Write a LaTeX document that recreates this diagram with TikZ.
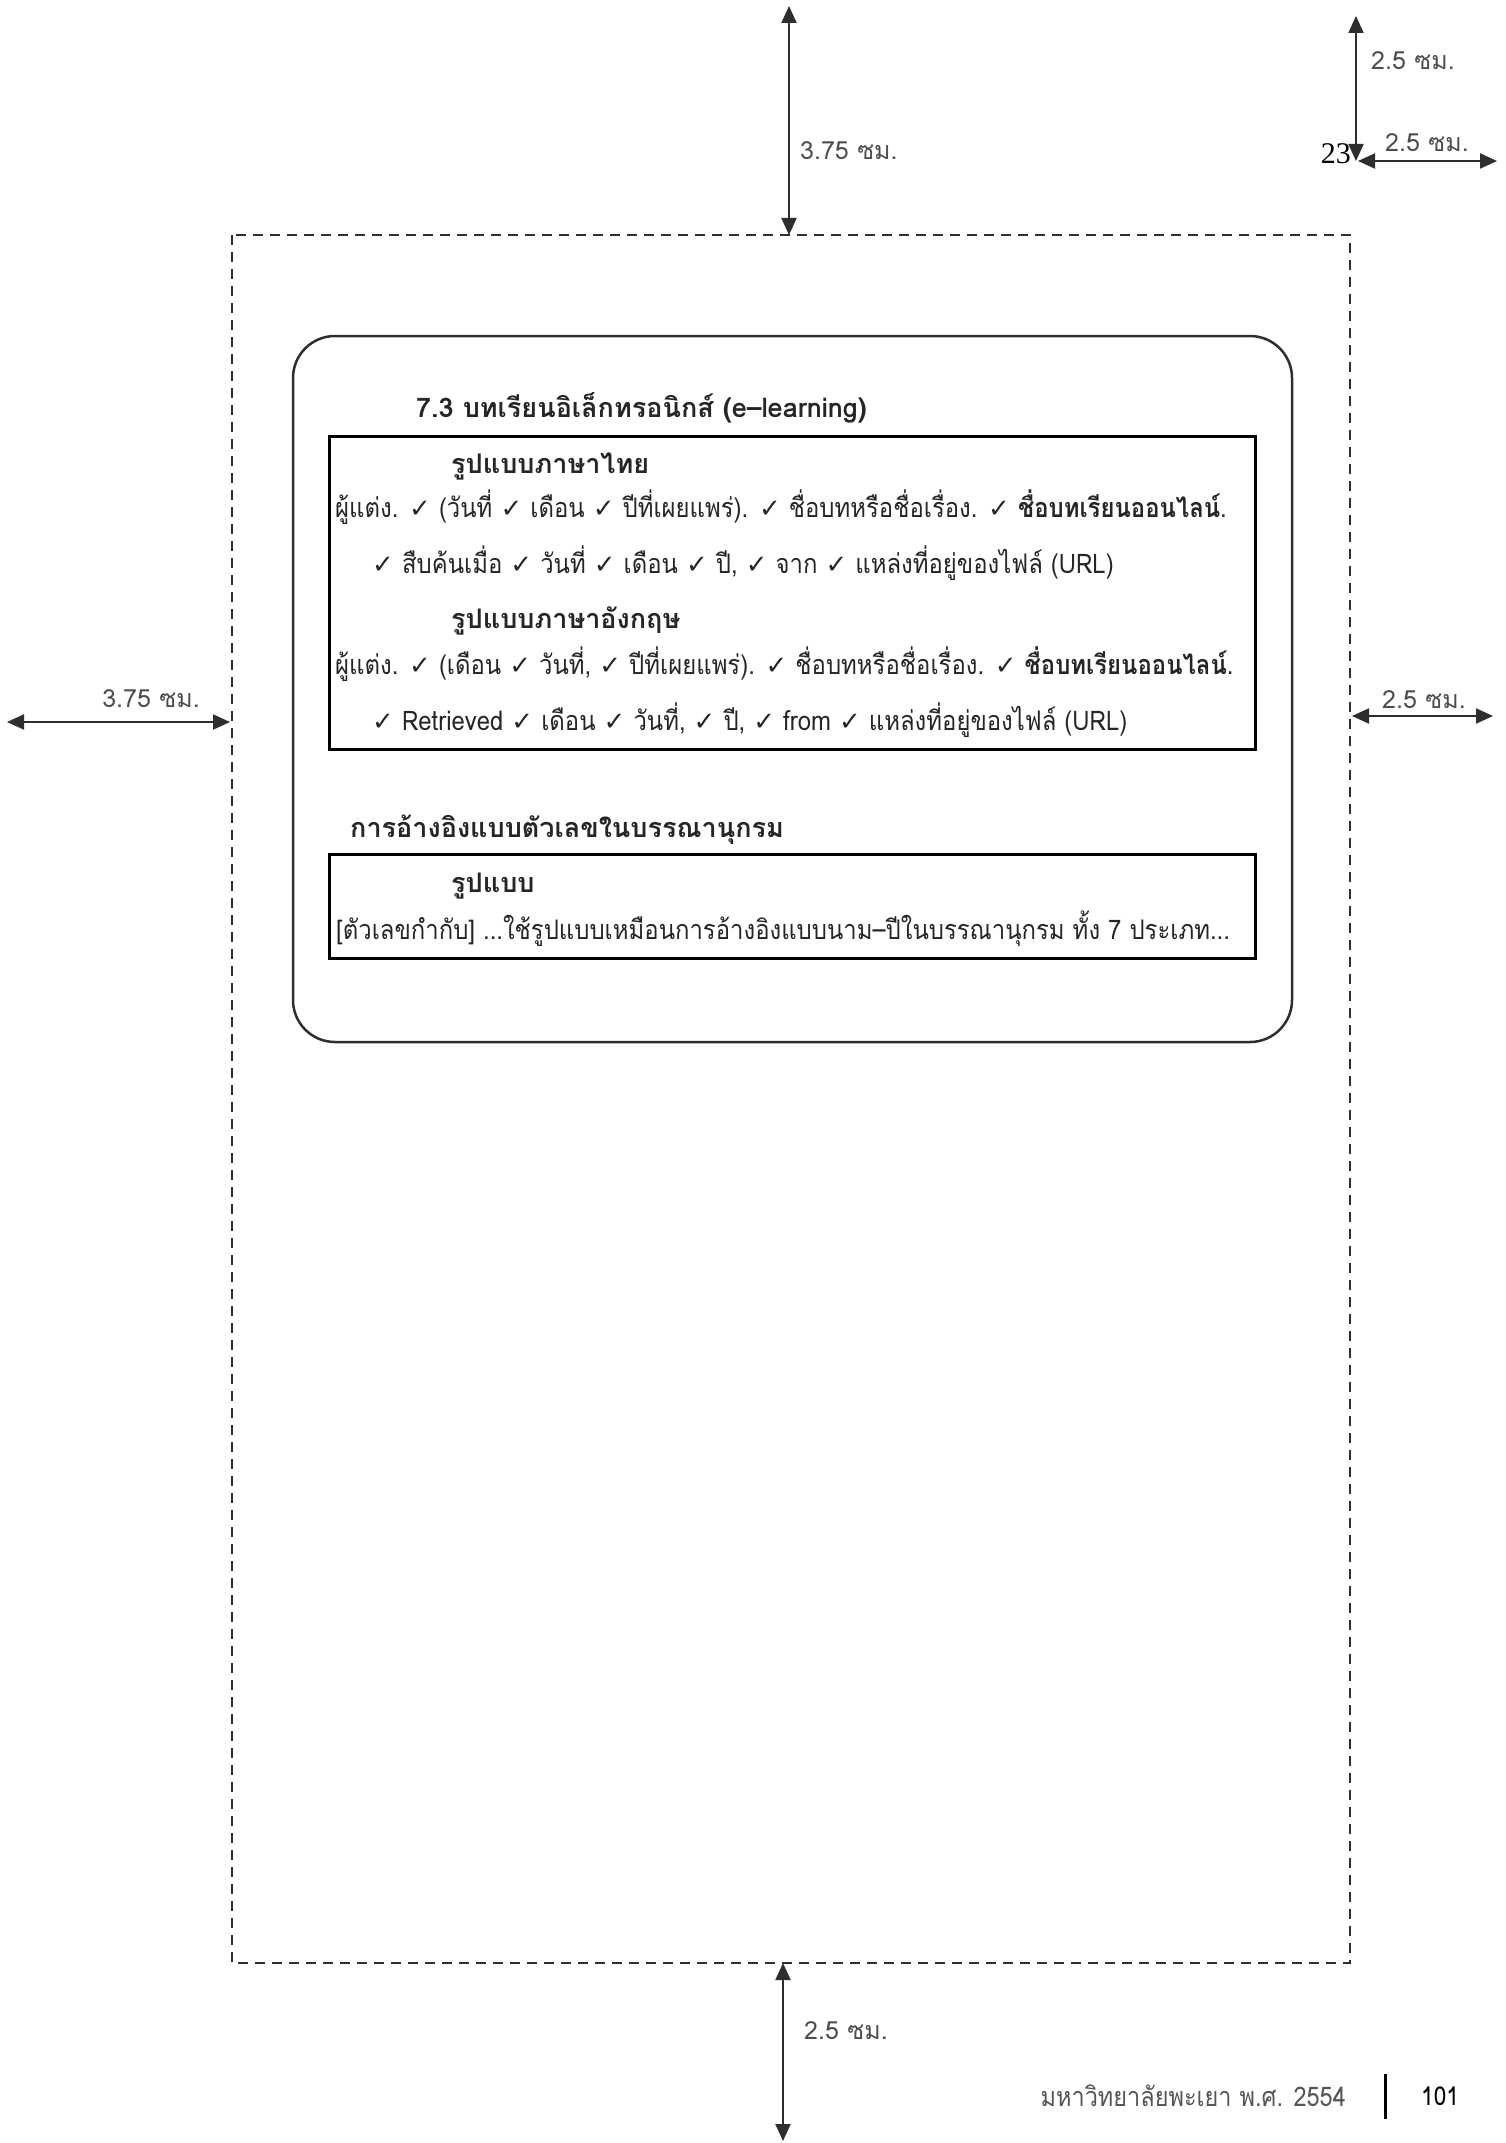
\documentclass[tikz,border=0pt]{standalone}
\usepackage{fontspec}
\usetikzlibrary{arrows.meta}
\newfontfamily\thaifont[Script=Thai]{Loma}
\newfontfamily\thaicond[Script=Thai,FakeStretch=0.885]{Loma}
\newfontfamily\thainarrow[Script=Thai,FakeStretch=0.87]{Loma}
\newfontfamily\symfont{DejaVu Sans}
\newfontfamily\numfont{Liberation Serif}
\newcommand\ck{{\symfont\fontsize{26}{30}\selectfont ✓}}
\definecolor{txt}{HTML}{262626}
\definecolor{dimc}{HTML}{2E2E2E}
\definecolor{foot}{HTML}{555555}
\tikzset{
  dimarrow/.style={draw=dimc, line width=2pt, {Triangle[width=15pt,length=17pt]}-{Triangle[width=15pt,length=17pt]}},
  dimlabel/.style={font=\thaifont\fontsize{25}{30}\selectfont, text=dimc!85!white, inner sep=0pt},
  bodytext/.style={font=\thaicond\fontsize{27}{32}\selectfont, text=txt, inner sep=0pt, anchor=base west},
  headtext/.style={font=\thaifont\bfseries\fontsize{27}{32}\selectfont, text=txt, inner sep=0pt, anchor=base west},
  framebox/.style={draw=black, line width=3pt},
  pageframe/.style={draw=dimc, line width=2pt, dash pattern=on 10pt off 7pt},
}
\begin{document}
\begin{tikzpicture}[x=1pt,y=-1pt]
\useasboundingbox[fill=white] (0,0) rectangle (1505,2143);

% page frame
\coordinate (fTL) at (232,235);
\coordinate (fBR) at (1350,1963);
\draw[pageframe] (fTL) rectangle (fBR);

% top margin
\coordinate (tA) at (789,6);
\coordinate (tB) at (789,235);
\draw[dimarrow] (tA) -- (tB);
\node[dimlabel, anchor=west] (ltop) at (800,151) {3.75 ซม.};

% top-right
\coordinate (trA) at (1356,16);
\coordinate (trB) at (1356,161);
\coordinate (trC) at (1358,161);
\coordinate (trD) at (1497,161);
\draw[dimarrow] (trA) -- (trB);
\draw[dimarrow] (trC) -- (trD);
\node[dimlabel, anchor=west] (ltr1) at (1371,61) {2.5 ซม.};
\node[dimlabel, anchor=west] (ltr2) at (1385,143) {2.5 ซม.};
\node[font=\numfont\fontsize{30}{34}\selectfont, text=black, inner sep=0pt, anchor=east] (pnum) at (1351,154) {23};

% left margin
\coordinate (lA) at (7,722);
\coordinate (lB) at (230,722);
\draw[dimarrow] (lA) -- (lB);
\node[dimlabel] (lleft) at (151,699) {3.75 ซม.};

% right margin
\coordinate (rA) at (1352,716);
\coordinate (rB) at (1493,716);
\draw[dimarrow] (rA) -- (rB);
\node[dimlabel] (lright) at (1424,700) {2.5 ซม.};

% bottom margin
\coordinate (bA) at (783,1963);
\coordinate (bB) at (783,2141);
\draw[dimarrow] (bA) -- (bB);
\node[dimlabel, anchor=west] (lbot) at (804,2031) {2.5 ซม.};

% footer
\node[font=\thainarrow\fontsize{27}{32}\selectfont, text=foot, inner sep=0pt, anchor=east] (ftxt) at (1346,2096) {มหาวิทยาลัยพะเยา พ.ศ. 2554};
\coordinate (barA) at (1385,2074);
\coordinate (barB) at (1385,2119);
\draw[line width=3pt, black] (barA) -- (barB);
\node[font=\thainarrow\fontsize{26}{32}\selectfont, text=black, inner sep=0pt, anchor=west] (fnum) at (1421,2096) {101};

% rounded content box
\draw[draw=dimc, line width=2.5pt, rounded corners=42pt] (293,336) rectangle (1292,1042);

\node[headtext] (title) at (416,417) {7.3 บทเรียนอิเล็กทรอนิกส์ (e–learning)};

\draw[framebox] (329,436) rectangle (1255,749);
\node[headtext] (h1) at (451,473) {รูปแบบภาษาไทย};
\node[bodytext] (l1) at (335,517) {ผู้แต่ง. \ck{} (วันที่ \ck{} เดือน \ck{} ปีที่เผยแพร่). \ck{} ชื่อบทหรือชื่อเรื่อง. \ck{} \textbf{ชื่อบทเรียนออนไลน์}.};
\node[bodytext] (l2) at (372,573) {\ck{} สืบค้นเมื่อ \ck{} วันที่ \ck{} เดือน \ck{} ปี, \ck{} จาก \ck{} แหล่งที่อยู่ของไฟล์ (URL)};
\node[headtext] (h2) at (451,628) {รูปแบบภาษาอังกฤษ};
\node[bodytext] (l3) at (335,674) {ผู้แต่ง. \ck{} (เดือน \ck{} วันที่, \ck{} ปีที่เผยแพร่). \ck{} ชื่อบทหรือชื่อเรื่อง. \ck{} \textbf{ชื่อบทเรียนออนไลน์}.};
\node[bodytext] (l4) at (372,730) {\ck{} Retrieved \ck{} เดือน \ck{} วันที่, \ck{} ปี, \ck{} from \ck{} แหล่งที่อยู่ของไฟล์ (URL)};

\node[headtext] (sec) at (350,837) {การอ้างอิงแบบตัวเลขในบรรณานุกรม};
\draw[framebox] (329,854) rectangle (1255,958);
\node[headtext] (h3) at (451,892) {รูปแบบ};
\node[bodytext] (l5) at (336,939) {[ตัวเลขกำกับ] ...ใช้รูปแบบเหมือนการอ้างอิงแบบนาม–ปีในบรรณานุกรม ทั้ง 7 ประเภท...};
\end{tikzpicture}
\end{document}
